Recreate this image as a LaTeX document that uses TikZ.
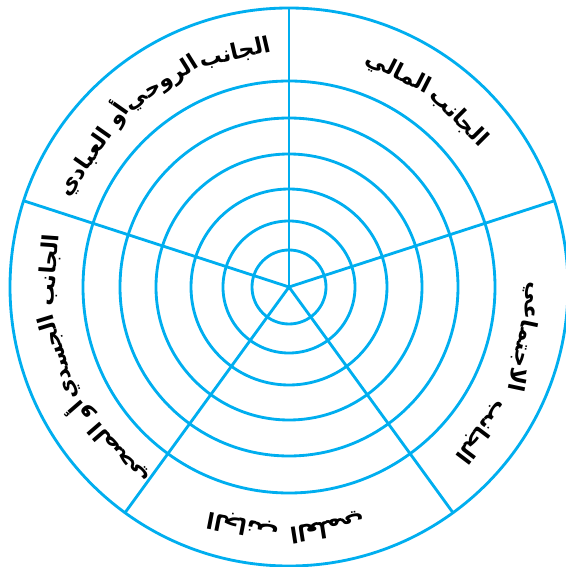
\documentclass[tikz,border=0pt]{standalone}
\usepackage{fontspec}
\newfontfamily\arabicfont[Script=Arabic]{DejaVu Sans}
\TeXXeTstate=1
\definecolor{wheelblue}{RGB}{0,174,239}

\begin{document}
\begin{tikzpicture}[
    x=0.3mm, y=0.3mm,
    ring/.style={draw=wheelblue, line width=0.85mm},
    aspect/.style={font=\arabicfont\bfseries\fontsize{19}{21}\selectfont, inner sep=0pt}
]
\useasboundingbox (-289,-280) rectangle (276,287);

% Rings
\coordinate (c) at (0,0);
\foreach \r in {37,66,98,133,169,206,279}
  \draw[ring] (c) circle (\r);

% Spokes
\foreach \a/\n in {90/s1,18/s2,306/s3,234/s4,162/s5}{
  \coordinate (\n) at (\a:279);
  \draw[ring] (c) -- (\n);
}

% Spiritual
\node[aspect, rotate=13] (ruh1) at (103:240) {\beginR الجانب\endR};
\node[aspect, rotate=32] (ruh2) at (122:240) {\beginR الروحي\endR};
\node[aspect, rotate=55] (ruh3) at (145:240) {\beginR أو العبادي\endR};

% Financial
\node[aspect, rotate=-45] (mal1) at (45:240) {\beginR الجانب\endR};
\node[aspect, rotate=-27] (mal2) at (63:240) {\beginR المالي\endR};

% Social
\node[aspect, rotate=-127] (ijt1) at (-37:241) {\beginR الجانب\endR};
\node[aspect, rotate=-102] (ijt2) at (-12:241) {\beginR الاجتماعي\endR};

% Scientific
\node[aspect, rotate=-191] (ilm1) at (-101:243) {\beginR الجانب\endR};
\node[aspect, rotate=-171] (ilm2) at (-81:243) {\beginR العلمي\endR};

% Physical
\node[aspect, rotate=86] (jsd1) at (176:240) {\beginR الجانب\endR};
\node[aspect, rotate=107] (jsd2) at (197:240) {\beginR الجسدي\endR};
\node[aspect, rotate=131] (jsd3) at (221:240) {\beginR أو الصحي\endR};

\end{tikzpicture}
\end{document}
